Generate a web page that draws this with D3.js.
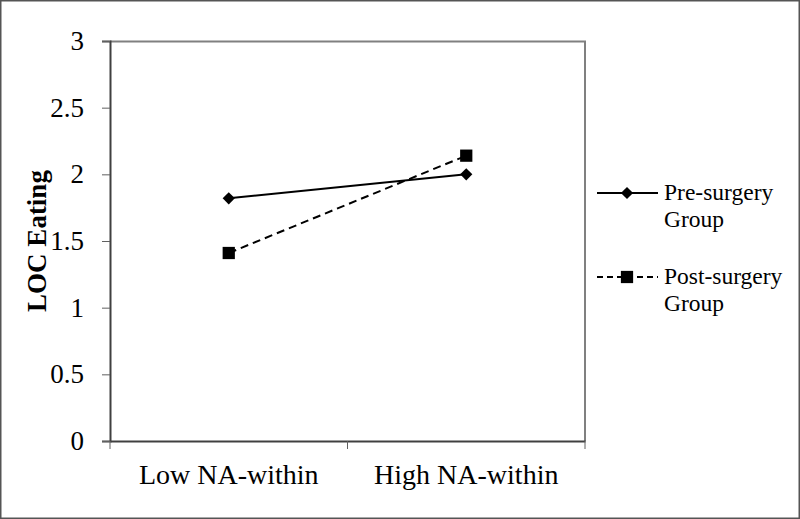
<!DOCTYPE html>
<html>
<head>
<meta charset="utf-8">
<script src="https://cdn.jsdelivr.net/npm/d3@7"></script>
<style>
  body { margin: 0; background: #fff; }
  text { font-family: "Liberation Serif", "Times New Roman", serif; fill: #000; }
</style>
</head>
<body>
<div class="chart"></div>
<script>
let FRAME_WIDTH = 800;
let FRAME_HEIGHT = 519;
let MARGINS = {left: 110, right: 215, top: 41, bottom: 78};

// data
let categories = ["Low NA-within", "High NA-within"];
let preValues = [1.82, 2.00];
let postValues = [1.41, 2.14];
let yTicks = [0, 0.5, 1, 1.5, 2, 2.5, 3];
let seriesNames = ["Pre-surgery Group", "Post-surgery Group"];

let PLOT_WIDTH = FRAME_WIDTH - MARGINS.left - MARGINS.right;
let PLOT_HEIGHT = FRAME_HEIGHT - MARGINS.top - MARGINS.bottom;

let svg = d3.select(".chart")
            .append("svg")
            .attr("width", FRAME_WIDTH)
            .attr("height", FRAME_HEIGHT);

// outer frame
svg.append("rect")
   .attr("x", 0.75).attr("y", 0.75)
   .attr("width", FRAME_WIDTH - 1.5).attr("height", FRAME_HEIGHT - 1.5)
   .attr("fill", "none").attr("stroke", "#555").attr("stroke-width", 1.5);

const X_SCALE = d3.scaleBand()
                  .domain(categories)
                  .range([0, PLOT_WIDTH]);

const Y_SCALE = d3.scaleLinear()
                  .domain([0, 3])
                  .range([PLOT_HEIGHT, 0]);

let g = svg.append("g")
           .attr("transform", "translate(" + MARGINS.left + "," + MARGINS.top + ")");

// plot border (top / right in grey)
g.append("path")
 .attr("d", "M0,0.5H" + PLOT_WIDTH + "V" + PLOT_HEIGHT)
 .attr("fill", "none").attr("stroke", "#808080").attr("stroke-width", 2);

// y axis
let yAxis = g.append("g")
             .call(d3.axisLeft(Y_SCALE).tickValues(yTicks).tickSize(8).tickPadding(18)
                     .tickFormat(d3.format("")));
yAxis.attr("font-size", null).attr("font-family", null);
yAxis.selectAll("text").style("font-size", "27px");
yAxis.select(".domain").attr("stroke", "#404040").attr("stroke-width", 2);
yAxis.selectAll(".tick line").attr("stroke", "#606060").attr("stroke-width", 1);

// x axis
let xAxis = g.append("g")
             .attr("transform", "translate(0," + PLOT_HEIGHT + ")")
             .call(d3.axisBottom(X_SCALE).tickSize(0).tickPadding(23));
xAxis.attr("font-size", null).attr("font-family", null);
xAxis.selectAll("text").style("font-size", "28px");
xAxis.select(".domain").attr("stroke", "#404040").attr("stroke-width", 2);

// category boundary ticks
let bounds = [0, X_SCALE.step(), PLOT_WIDTH];
g.selectAll(".bound")
 .data(bounds)
 .enter()
 .append("line")
   .attr("x1", d => d).attr("x2", d => d)
   .attr("y1", PLOT_HEIGHT).attr("y2", PLOT_HEIGHT + 8)
   .attr("stroke", "#606060").attr("stroke-width", 1);

// y label
svg.append("text")
   .attr("transform", "translate(46," + (MARGINS.top + PLOT_HEIGHT / 2) + ") rotate(-90)")
   .attr("text-anchor", "middle")
   .style("font-size", "27px")
   .attr("font-weight", "bold")
   .text("LOC Eating");

let cx = (d, i) => X_SCALE(categories[i]) + X_SCALE.bandwidth() / 2;
let line = d3.line().x(cx).y(d => Y_SCALE(d));

// pre-surgery line
g.append("path")
 .datum(preValues)
 .attr("d", line)
 .attr("fill", "none").attr("stroke", "#000").attr("stroke-width", 2);

// post-surgery line
g.append("path")
 .datum(postValues)
 .attr("d", line)
 .attr("fill", "none").attr("stroke", "#000").attr("stroke-width", 2)
 .attr("stroke-dasharray", "8,5");

let diamond = d3.symbol().type(d3.symbolDiamond2).size(95);
let square = d3.symbol().type(d3.symbolSquare).size(150);

g.selectAll(".pre")
 .data(preValues)
 .enter()
 .append("path")
   .attr("d", diamond)
   .attr("transform", (d, i) => "translate(" + cx(d, i) + "," + Y_SCALE(d) + ")")
   .attr("fill", "#000");

g.selectAll(".post")
 .data(postValues)
 .enter()
 .append("path")
   .attr("d", square)
   .attr("transform", (d, i) => "translate(" + cx(d, i) + "," + Y_SCALE(d) + ")")
   .attr("fill", "#000");

// legend
let legend = svg.append("g").attr("transform", "translate(597,193)");
let legendRows = [
  {name: seriesNames[0], dash: null, sym: diamond, dy: 0},
  {name: seriesNames[1], dash: "6,4", sym: square, dy: 84}
];
legendRows.forEach(r => {
  let row = legend.append("g").attr("transform", "translate(0," + r.dy + ")");
  row.append("line")
     .attr("x1", 0).attr("x2", 61).attr("y1", 0).attr("y2", 0)
     .attr("stroke", "#000").attr("stroke-width", 2)
     .attr("stroke-dasharray", r.dash);
  row.append("path").attr("d", r.sym).attr("transform", "translate(30,0)").attr("fill", "#000");
  let words = r.name.split(" ");
  let t = row.append("text").attr("x", 67).attr("y", 7).style("font-size", "23.5px");
  t.append("tspan").attr("x", 67).attr("dy", 0).text(words[0]);
  t.append("tspan").attr("x", 67).attr("dy", 27).text(words[1]);
});
</script>
</body>
</html>
